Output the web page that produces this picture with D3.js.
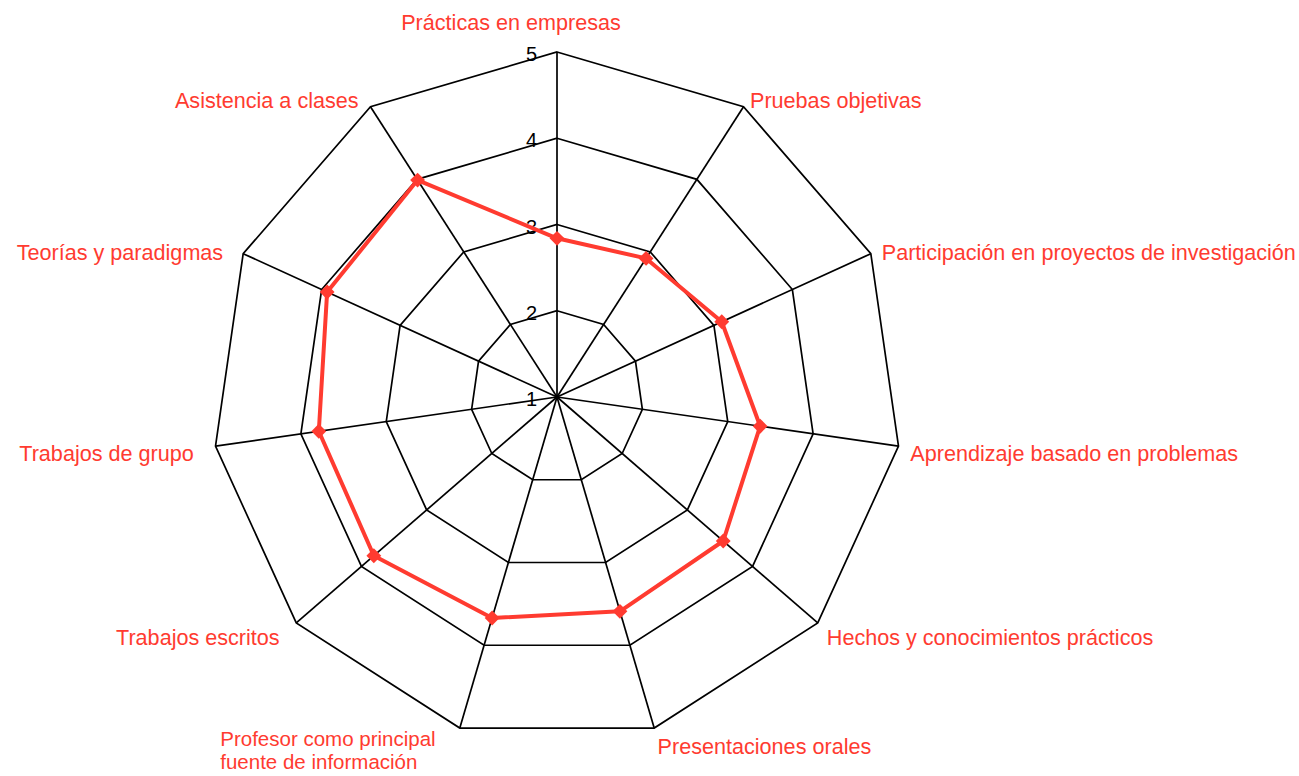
<!DOCTYPE html>
<html>
<head>
<meta charset="utf-8">
<script src="https://cdn.jsdelivr.net/npm/d3@7"></script>
<style>
  body { margin: 0; background: #fff; }
  svg { display: block; font-family: "Liberation Sans", Arial, sans-serif; }
</style>
</head>
<body>
<svg id="radar" width="1299" height="776"></svg>
<script>
const categories = [
  "Prácticas en empresas",
  "Pruebas objetivas",
  "Participación en proyectos de investigación",
  "Aprendizaje basado en problemas",
  "Hechos y conocimientos prácticos",
  "Presentaciones orales",
  "Profesor como principal\nfuente de información",
  "Trabajos escritos",
  "Trabajos de grupo",
  "Teorías y paradigmas",
  "Asistencia a clases"
];
const values = [2.84, 2.91, 3.10, 3.38, 3.55, 3.59, 3.67, 3.81, 3.79, 3.93, 3.99];
const levels = [1, 2, 3, 4, 5];

const svg = d3.select("#radar");
const cx = 557, cy = 397, R = 345;
const red = "#ff3b30";
const g = svg.append("g").attr("transform", `translate(${cx},${cy})`);

const n = categories.length;
const r = d3.scaleLinear().domain([1, 5]).range([0, R]);
const angle = d3.scaleLinear().domain([0, n]).range([0, 2 * Math.PI]);

const radial = d3.lineRadial()
  .angle(d => angle(d.i))
  .radius(d => r(d.v))
  .curve(d3.curveLinearClosed);

// grid rings
g.selectAll("path.ring")
  .data(levels.slice(1))
  .join("path")
  .attr("class", "ring")
  .attr("d", lv => radial(categories.map((c, i) => ({ i, v: lv }))))
  .attr("fill", "none")
  .attr("stroke", "#000")
  .attr("stroke-width", 1.7);

// spokes
g.selectAll("line.spoke")
  .data(categories)
  .join("line")
  .attr("class", "spoke")
  .attr("x1", 0).attr("y1", 0)
  .attr("x2", (c, i) => r(5) * Math.sin(angle(i)))
  .attr("y2", (c, i) => -r(5) * Math.cos(angle(i)))
  .attr("stroke", "#000")
  .attr("stroke-width", 1.7);

// tick labels
g.selectAll("text.tick")
  .data(levels)
  .join("text")
  .attr("class", "tick")
  .attr("x", -20)
  .attr("y", lv => -r(lv) + 2)
  .attr("dy", "0.35em")
  .attr("text-anchor", "end")
  .style("font-size", "20px")
  .attr("fill", "#000")
  .text(lv => lv);

// series
const pts = values.map((v, i) => ({ i, v }));
g.append("path")
  .attr("d", radial(pts))
  .attr("fill", "none")
  .attr("stroke", red)
  .attr("stroke-width", 4)
  .attr("stroke-linejoin", "round");

g.selectAll("path.marker")
  .data(pts)
  .join("path")
  .attr("class", "marker")
  .attr("d", d3.symbol(d3.symbolSquare, 110))
  .attr("transform", d => `translate(${r(d.v) * Math.sin(angle(d.i))},${-r(d.v) * Math.cos(angle(d.i))}) rotate(45)`)
  .attr("fill", red);

// category labels
categories.forEach((c, i) => {
  const a = angle(i);
  const s = Math.sin(a), co = Math.cos(a);
  const lines = c.split("\n");
  const multi = lines.length > 1;
  let anchor, x, y;
  if (i === 0) {
    anchor = "middle";
    x = -46;
    y = -R - 30;
  } else if (s > 0) {
    anchor = "start";
    x = (R + 12) * s;
    y = -(R + 14) * co + 5;
  } else {
    anchor = "end";
    x = (R + 22) * s;
    y = -(R + 14) * co + 5;
  }
  if (multi) { x -= 18; y -= 8; }
  const t = g.append("text")
    .attr("fill", red)
    .style("font-size", multi ? "20.5px" : "21.6px")
    .attr("text-anchor", multi ? "start" : anchor);
  lines.forEach((ln, k) => {
    t.append("tspan")
      .attr("x", x)
      .attr("y", y)
      .attr("dy", `${0.35 + k * 1.15}em`)
      .text(ln);
  });
  if (multi) {
    const w = t.node().getBBox().width;
    t.selectAll("tspan").attr("x", x - w);
  }
});
</script>
</body>
</html>
